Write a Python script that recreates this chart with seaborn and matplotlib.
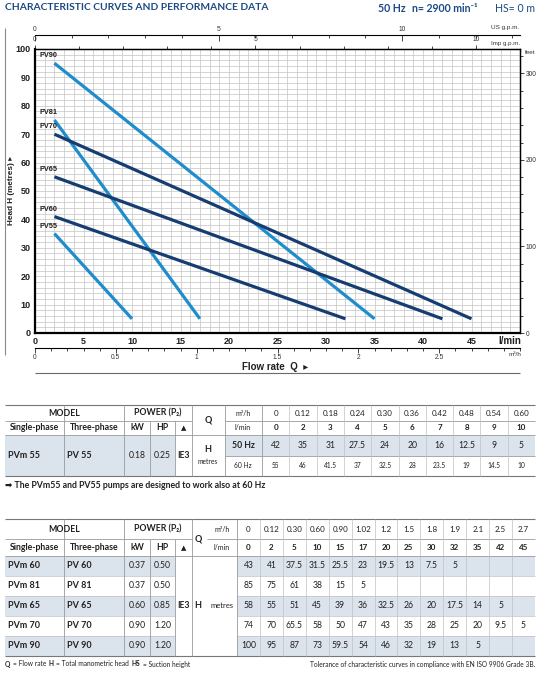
import numpy as np
import pandas as pd
import matplotlib
matplotlib.use("Agg")
import matplotlib.pyplot as plt
import seaborn as sns
from matplotlib.patches import Rectangle
from matplotlib.ticker import FixedLocator, MultipleLocator, FuncFormatter

# ---------------- data ----------------
curve_models = ["PV90", "PV81", "PV70", "PV65", "PV60", "PV55"]
curve_q_start = [2, 2, 2, 2, 2, 2]
curve_q_end = [35, 17, 45, 42, 32, 10]
curve_h_start = [95, 75, 70, 55, 41, 35]
curve_h_end = [5, 5, 5, 5, 5, 5]
curve_shade = ["light", "light", "dark", "dark", "dark", "light"]

x_ticks = [0, 5, 10, 15, 20, 25, 30, 35, 40, 45]
y_ticks = [0, 10, 20, 30, 40, 50, 60, 70, 80, 90, 100]
us_gpm_ticks = [0, 5, 10]
imp_gpm_ticks = [0, 5, 10]
m3h_ticks = [0, 0.5, 1, 1.5, 2, 2.5]
feet_ticks = [0, 100, 200, 300]

# table 1 (PV55, 50/60 Hz)
t1_single = ["PVm 55"]
t1_three = ["PV 55"]
t1_kw = ["0.18"]
t1_hp = ["0.25"]
t1_q_m3h = ["0", "0.12", "0.18", "0.24", "0.30", "0.36", "0.42", "0.48", "0.54", "0.60"]
t1_q_lmin = ["0", "2", "3", "4", "5", "6", "7", "8", "9", "10"]
t1_h50 = ["42", "35", "31", "27.5", "24", "20", "16", "12.5", "9", "5"]
t1_h60 = ["55", "46", "41.5", "37", "32.5", "28", "23.5", "19", "14.5", "10"]

# table 2
t2_single = ["PVm 60", "PVm 81", "PVm 65", "PVm 70", "PVm 90"]
t2_three = ["PV 60", "PV 81", "PV 65", "PV 70", "PV 90"]
t2_kw = ["0.37", "0.37", "0.60", "0.90", "0.90"]
t2_hp = ["0.50", "0.50", "0.85", "1.20", "1.20"]
t2_q_m3h = ["0", "0.12", "0.30", "0.60", "0.90", "1.02", "1.2", "1.5", "1.8", "1.9", "2.1", "2.5", "2.7"]
t2_q_lmin = ["0", "2", "5", "10", "15", "17", "20", "25", "30", "32", "35", "42", "45"]
t2_h_pv60 = ["43", "41", "37.5", "31.5", "25.5", "23", "19.5", "13", "7.5", "5", "", "", ""]
t2_h_pv81 = ["85", "75", "61", "38", "15", "5", "", "", "", "", "", "", ""]
t2_h_pv65 = ["58", "55", "51", "45", "39", "36", "32.5", "26", "20", "17.5", "14", "5", ""]
t2_h_pv70 = ["74", "70", "65.5", "58", "50", "47", "43", "35", "28", "25", "20", "9.5", "5"]
t2_h_pv90 = ["100", "95", "87", "73", "59.5", "54", "46", "32", "19", "13", "5", "", ""]

# ---------------- style ----------------
sns.set_theme(style="white")
plt.rcParams['font.family'] = ['Lato', 'DejaVu Sans']

LIGHT = "#1f8dcc"
DARK = "#163d72"
TXT = "#231f20"
BLUE_T = "#1d4a82"
GRID = "#c4c4c4"
SHADE = "#dbe4ec"
TLINE = "#9a9a9a"
CHART_FONT = ['Liberation Sans', 'DejaVu Sans']

W, H = 539, 673
fig = plt.figure(figsize=(W / 100, H / 100), dpi=100)
fig.patch.set_facecolor("white")

ov = fig.add_axes([0, 0, 1, 1], zorder=0)
ov.set_xlim(0, W)
ov.set_ylim(H, 0)
ov.axis("off")

L, R, T, B = 35, 520, 49, 333
ax = fig.add_axes([L / W, 1 - B / H, (R - L) / W, (B - T) / H], zorder=1)

# ---------------- chart ----------------
rows = []
for m, qs, qe, hs, he in zip(curve_models, curve_q_start, curve_q_end, curve_h_start, curve_h_end):
    rows.append(dict(model=m, q=qs, h=hs))
    rows.append(dict(model=m, q=qe, h=he))
df = pd.DataFrame(rows)
palette = {m: (LIGHT if s == "light" else DARK) for m, s in zip(curve_models, curve_shade)}
sns.lineplot(data=df, x="q", y="h", hue="model", palette=palette, linewidth=2.3,
             legend=False, ax=ax, sort=False, estimator=None)
for line in ax.lines:
    line.set_solid_capstyle("butt")

for m, qs, hs in zip(curve_models, curve_q_start, curve_h_start):
    ax.text(0.5, hs + 2.6, m, fontsize=5.3, fontweight="bold", color=TXT,
            family=CHART_FONT, ha="left", va="center")

ax.set_xlim(0, 50)
ax.set_ylim(0, 100)
ax.set_xticks(x_ticks)
ax.set_yticks(y_ticks)
ax.xaxis.set_minor_locator(MultipleLocator(1))
ax.yaxis.set_minor_locator(MultipleLocator(2))
ax.grid(which="both", color=GRID, linewidth=0.5)
ax.set_axisbelow(True)
ax.tick_params(axis="both", which="both", length=0)
ax.tick_params(axis="x", pad=3)
ax.tick_params(axis="y", pad=3)
for lab in ax.get_xticklabels() + ax.get_yticklabels():
    lab.set_fontsize(6.5)
    lab.set_fontweight("bold")
    lab.set_family(CHART_FONT)
    lab.set_color(TXT)
ax.set_xlabel("")
ax.set_ylabel("")
for sp in ax.spines.values():
    sp.set_color("black")
    sp.set_linewidth(1.0)
ax.spines["left"].set_linewidth(1.6)
ax.spines["bottom"].set_linewidth(1.6)


def small_axis_style(sec, axis_name):
    for lab in (sec.get_xticklabels() if axis_name == "x" else sec.get_yticklabels()):
        lab.set_fontsize(4.8)
        lab.set_family(CHART_FONT)
        lab.set_color("#333333")
    for sp in sec.spines.values():
        sp.set_color("black")
        sp.set_linewidth(0.8)


fmt_g = FuncFormatter(lambda v, p: f"{v:g}")

# US g.p.m. (top, offset)
us = ax.secondary_xaxis(1 + 14 / (B - T), functions=(lambda x: x / 3.785, lambda x: x * 3.785))
us.xaxis.set_major_locator(FixedLocator(us_gpm_ticks))
us.xaxis.set_major_formatter(fmt_g)
us.xaxis.set_minor_locator(MultipleLocator(1))
us.tick_params(which="major", direction="in", length=4, width=0.6, pad=1.5)
us.tick_params(which="minor", direction="in", length=2.5, width=0.6)
small_axis_style(us, "x")

# Imp g.p.m. (top spine)
imp = ax.secondary_xaxis("top", functions=(lambda x: x / 4.546, lambda x: x * 4.546))
imp.xaxis.set_major_locator(FixedLocator(imp_gpm_ticks))
imp.xaxis.set_major_formatter(fmt_g)
imp.xaxis.set_minor_locator(MultipleLocator(1))
imp.tick_params(which="major", direction="out", length=3, width=0.6, pad=1)
imp.tick_params(which="minor", direction="out", length=2.5, width=0.6)
small_axis_style(imp, "x")

# m3/h (bottom, offset)
m3 = ax.secondary_xaxis(-15 / (B - T), functions=(lambda x: x * 0.06, lambda x: x / 0.06))
m3.xaxis.set_major_locator(FixedLocator(m3h_ticks))
m3.xaxis.set_major_formatter(fmt_g)
m3.xaxis.set_minor_locator(MultipleLocator(0.1))
m3.tick_params(which="major", direction="out", length=3.5, width=0.6, pad=1)
m3.tick_params(which="minor", direction="out", length=2, width=0.6)
small_axis_style(m3, "x")

# feet (right)
ft = ax.secondary_yaxis("right", functions=(lambda y: y * 3.2808, lambda y: y / 3.2808))
ft.yaxis.set_major_locator(FixedLocator(feet_ticks))
ft.yaxis.set_major_formatter(fmt_g)
ft.yaxis.set_minor_locator(MultipleLocator(20))
ft.tick_params(which="major", direction="out", length=3, width=0.6, pad=1)
ft.tick_params(which="minor", direction="out", length=2.5, width=0.6)
small_axis_style(ft, "y")

# ---------------- overlay helpers ----------------
def txt(x, y, s, size=6.5, weight="normal", ha="center", color=TXT, family=None, **kw):
    return ov.text(x, y, s, fontsize=size, fontweight=weight, ha=ha, va="center",
                   color=color, family=family if family else ['Lato', 'DejaVu Sans'], **kw)


def hline(y, x0, x1, color=TLINE, lw=0.6):
    ov.plot([x0, x1], [y, y], color=color, lw=lw, solid_capstyle="butt")


def vline(x, y0, y1, color=TLINE, lw=0.6):
    ov.plot([x, x], [y0, y1], color=color, lw=lw, solid_capstyle="butt")


def rect(x0, y0, x1, y1, color=SHADE):
    ov.add_patch(Rectangle((x0, y0), x1 - x0, y1 - y0, facecolor=color, edgecolor="none", zorder=0))


renderer = fig.canvas.get_renderer()


def seq(x, y, pieces, size, color=TXT):
    for s, w in pieces:
        t = txt(x, y, s, size=size, weight=w, ha="left", color=color)
        bb = t.get_window_extent(renderer)
        x += bb.width + 2.5


# ---------------- title ----------------
txt(5, 8, "CHARACTERISTIC CURVES AND PERFORMANCE DATA", size=7.4, weight="bold", ha="left", color=BLUE_T)
txt(378, 8, "50 Hz", size=7.6, weight="bold", ha="left", color=BLUE_T)
txt(412, 8, "n= 2900 min⁻¹", size=7.6, weight="bold", ha="left", color=BLUE_T)
txt(535, 8, "HS= 0 m", size=7.6, weight="normal", ha="right", color=BLUE_T)

# chart decorations
vline(5, 28, 355, color="#8a8a8a", lw=0.8)
txt(12, 190, "Head H (metres) ▸", size=5.9, weight="bold", rotation=90, family=CHART_FONT)
txt(275, 367, "Flow rate  Q  ▸", size=7, weight="bold", family=CHART_FONT)
hline(373, 35, 520, color="#6a6a6a", lw=0.8)
txt(521, 341, "l/min", size=7, weight="bold", ha="right", family=CHART_FONT)
txt(521, 355, "m³/h", size=4.6, ha="right", family=CHART_FONT, color="#333333")
txt(519, 28, "US g.p.m.", size=4.6, ha="right", family=CHART_FONT, color="#333333")
txt(520, 43, "Imp g.p.m.", size=4.4, ha="right", family=CHART_FONT, color="#333333")
txt(525, 52, "feet", size=4.6, ha="left", family=CHART_FONT, color="#333333")

# ---------------- table 1 ----------------
x_data1_0, x_data1_1 = 262, 535
n1 = len(t1_q_m3h)
w1 = (x_data1_1 - x_data1_0) / n1
cen1 = [x_data1_0 + w1 * (i + 0.5) for i in range(n1)]

top1, mid1, hb1, sub1, bot1 = 405, 421, 435, 456, 476
rect(5, hb1, 175, bot1)
rect(225, hb1, 535, sub1)
hline(top1, 5, 535, color="#777777", lw=0.8)
hline(mid1, 5, 192)
hline(mid1, 225, 535)
hline(hb1, 5, 535)
hline(sub1, 225, 535)
hline(bot1, 5, 535, color="#777777", lw=0.8)
for xv in [64, 124, 192, 225, 262]:
    vline(xv, top1, bot1)
for xv in [150, 175]:
    vline(xv, mid1, bot1)
for i in range(1, n1):
    vline(x_data1_0 + w1 * i, top1, bot1, color="#c0c0c0", lw=0.5)

txt(64.5, 413, "MODEL", size=6.3, weight="bold")
txt(158, 413, "POWER (P₂)", size=6.3, weight="bold")
txt(34.5, 428, "Single-phase", size=6.3, weight="bold")
txt(94, 428, "Three-phase", size=6.3, weight="bold")
txt(137, 428, "kW", size=6.3, weight="bold")
txt(162.5, 428, "HP", size=6.3, weight="bold")
txt(183.5, 428, "▲", size=5, weight="bold")
txt(208, 420, "Q", size=6.5, weight="bold")
txt(243, 413, "m³/h", size=5)
txt(243, 428, "l/min", size=5)
for c, a, b2, h5, h6 in zip(cen1, t1_q_m3h, t1_q_lmin, t1_h50, t1_h60):
    txt(c, 413, a, size=5.8)
    txt(c, 428, b2, size=5.8, weight="bold")
    txt(c, 446, h5, size=6.2)
    txt(c, 466, h6, size=4.8)
txt(8, 455, t1_single[0], size=6.5, weight="bold", ha="left")
txt(67, 455, t1_three[0], size=6.5, weight="bold", ha="left")
txt(137, 455, t1_kw[0], size=6.2)
txt(162.5, 455, t1_hp[0], size=6.2)
txt(183.5, 455, "IE3", size=6.2, weight="bold")
txt(208, 449, "H", size=6.5, weight="bold")
txt(208, 462, "metres", size=4.8)
txt(243, 446, "50 Hz", size=6.2, weight="bold")
txt(243, 466, "60 Hz", size=4.8)

txt(5, 486, "➡ The PVm55 and PV55 pumps are designed to work also at 60 Hz", size=6.3,
    weight="bold", ha="left")

# ---------------- table 2 ----------------
x_data2_0, x_data2_1 = 237, 535
n2 = len(t2_q_m3h)
w2 = (x_data2_1 - x_data2_0) / n2
cen2 = [x_data2_0 + w2 * (i + 0.5) for i in range(n2)]
top2, mid2, hb2 = 519, 539, 556
rh = 20
t2_rows = [t2_h_pv60, t2_h_pv81, t2_h_pv65, t2_h_pv70, t2_h_pv90]
nrows = len(t2_rows)
bot2 = hb2 + rh * nrows

for i in range(nrows):
    if i % 2 == 0:
        rect(5, hb2 + rh * i, 175, hb2 + rh * (i + 1))
        rect(237, hb2 + rh * i, 535, hb2 + rh * (i + 1))
hline(top2, 5, 535, color="#777777", lw=0.8)
hline(mid2, 5, 192)
hline(mid2, 207, 535)
hline(hb2, 5, 535)
for i in range(1, nrows):
    hline(hb2 + rh * i, 5, 175, color="#c0c0c0", lw=0.5)
    hline(hb2 + rh * i, 237, 535, color="#c0c0c0", lw=0.5)
hline(bot2, 5, 535, color="#777777", lw=0.8)
for xv in [64, 124, 192, 237]:
    vline(xv, top2, bot2)
for xv in [150, 175]:
    vline(xv, mid2, bot2)
for i in range(1, n2):
    vline(x_data2_0 + w2 * i, top2, bot2, color="#c0c0c0", lw=0.5)

txt(64.5, 529, "MODEL", size=6.3, weight="bold")
txt(158, 529, "POWER (P₂)", size=6.3, weight="bold")
txt(34.5, 548, "Single-phase", size=6.3, weight="bold")
txt(94, 548, "Three-phase", size=6.3, weight="bold")
txt(137, 548, "kW", size=6.3, weight="bold")
txt(162.5, 548, "HP", size=6.3, weight="bold")
txt(183.5, 548, "▲", size=5, weight="bold")
txt(198, 539, "Q", size=6.5, weight="bold")
txt(222, 530, "m³/h", size=5)
txt(222, 548, "l/min", size=5)
for c, a, b2 in zip(cen2, t2_q_m3h, t2_q_lmin):
    txt(c, 530, a, size=5.8)
    txt(c, 548, b2, size=5.8, weight="bold")
for i, vals in enumerate(t2_rows):
    yc = hb2 + rh * (i + 0.5)
    txt(8, yc, t2_single[i], size=6.5, weight="bold", ha="left")
    txt(67, yc, t2_three[i], size=6.5, weight="bold", ha="left")
    txt(137, yc, t2_kw[i], size=6.2)
    txt(162.5, yc, t2_hp[i], size=6.2)
    for c, v in zip(cen2, vals):
        if v:
            txt(c, yc, v, size=6.2)
ymid = hb2 + rh * nrows / 2
txt(183.5, ymid, "IE3", size=6.2, weight="bold")
txt(198, ymid, "H", size=6.5, weight="bold")
txt(222, ymid, "metres", size=5.5)

# footer
seq(5, 664, [("Q", "bold"), ("= Flow rate", "normal"), ("H", "bold"), ("= Total manometric head", "normal"),
             ("HS", "bold"), ("= Suction height", "normal")], size=4.8)
txt(535, 664, "Tolerance of characteristic curves in compliance with EN ISO 9906 Grade 3B.", size=4.8, ha="right")

fig.savefig("out.png", dpi=100, facecolor="white")
